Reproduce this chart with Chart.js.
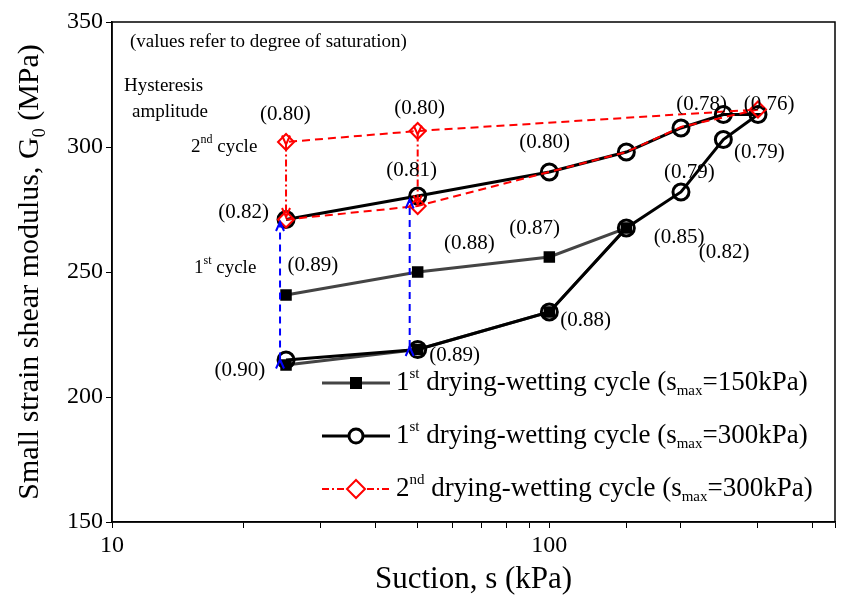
<!DOCTYPE html>
<html>
<head>
<meta charset="utf-8">
<script src="https://cdn.jsdelivr.net/npm/chart.js@4.4.1/dist/chart.umd.min.js"></script>
<style>
  body { margin: 0; background: #fff; }
  #wrap { width: 851px; height: 603px; }
</style>
</head>
<body>
<div id="wrap"><canvas id="chart"></canvas></div>
<script>
// Suction (kPa) and G0 (MPa)
const suction150 = [25, 50, 100, 150, 100, 50, 25];
const g0Cycle150 = [212.8, 219, 234, 267.6, 256, 250, 240.8];

const suction300 = [25, 50, 100, 150, 200, 250, 300, 250, 200, 150, 100, 50, 25];
const g0Cycle300 = [214.8, 219, 234, 267.6, 282, 303, 313, 313, 307.6, 298, 290, 280.4, 271];

const suction2nd = [25, 50, 100, 150, 200, 300, 50, 25];
const g0Cycle2nd = [271, 276.4, 290, 298, 308, 315, 306.4, 302];
const markers2nd = [1, 1, 0, 0, 0, 1, 1, 1];

const yTicks = [150, 200, 250, 300, 350];

// degree of saturation labels: text, suction, G0
const satText = ["(0.80)", "(0.80)", "(0.78)", "(0.76)", "(0.80)", "(0.81)", "(0.79)", "(0.79)",
  "(0.82)", "(0.88)", "(0.87)", "(0.85)", "(0.89)", "(0.82)", "(0.88)", "(0.89)", "(0.90)"];
const satX = [24.9, 50.5, 223, 318, 97.5, 48.4, 209, 302, 20, 65.6, 92.5, 198, 28.8, 251, 121, 60.7, 19.6];
const satY = [313.2, 315.6, 317.2, 317.2, 302, 290.8, 290, 298, 274, 261.6, 267.6, 264, 252.8, 258, 230.8, 216.8, 210.8];

// hysteresis arrows: suction, from G0, to G0
const blueX = [25, 50], blueFrom = [215, 220], blueTo = [270, 279];
const redX = [25, 50], redFrom = [301, 305], redTo = [272, 277];

const FONT = "'Liberation Serif', 'DejaVu Serif', serif";

function toPts(xs, ys) { return xs.map((x, i) => ({ x, y: ys[i] })); }

function drawArrow(ctx, x, y1, y2, color, dash) {
  ctx.save();
  ctx.strokeStyle = color;
  ctx.lineWidth = 2;
  ctx.setLineDash(dash);
  ctx.beginPath();
  ctx.moveTo(x, y1);
  ctx.lineTo(x, y2);
  ctx.stroke();
  ctx.setLineDash([]);
  [[y1, y2 < y1 ? 1 : -1], [y2, y2 > y1 ? -1 : 1]].forEach(([y, d]) => {
    ctx.beginPath();
    ctx.moveTo(x - 4, y + d * 9);
    ctx.lineTo(x, y);
    ctx.lineTo(x + 4, y + d * 9);
    ctx.stroke();
  });
  ctx.restore();
}

function supText(ctx, parts, x, y) {
  // parts: [text, mode, size] mode: n normal, sup, sub
  parts.forEach(([t, m, size]) => {
    ctx.font = size + "px " + FONT;
    const dy = m === "sup" ? -size * 0.6 : m === "sub" ? size * 0.55 : 0;
    ctx.fillText(t, x, y + dy);
    x += ctx.measureText(t).width;
  });
  return x;
}

const extras = {
  id: "extras",
  afterDatasetsDraw(chart) {
    const { ctx, chartArea: a, scales: { x, y } } = chart;
    ctx.save();
    ctx.strokeStyle = "#000";
    ctx.lineWidth = 1.5;
    ctx.strokeRect(a.left, a.top, a.right - a.left, a.bottom - a.top);

    blueX.forEach((s, i) => drawArrow(ctx, x.getPixelForValue(s) + (i ? -8 : -6),
      y.getPixelForValue(blueFrom[i]), y.getPixelForValue(blueTo[i]), "#0000ff", [7, 5]));
    redX.forEach((s, i) => drawArrow(ctx, x.getPixelForValue(s),
      y.getPixelForValue(redFrom[i]), y.getPixelForValue(redTo[i]), "#ff0000", [7, 3, 2, 3]));

    ctx.fillStyle = "#000";
    ctx.textAlign = "center";
    ctx.textBaseline = "middle";
    ctx.font = "21px " + FONT;
    satText.forEach((t, i) => ctx.fillText(t, x.getPixelForValue(satX[i]), y.getPixelForValue(satY[i])));

    ctx.font = "19px " + FONT;
    ctx.textAlign = "left";
    ctx.fillText("(values refer to degree of saturation)", 130, 42);
    ctx.fillText("Hysteresis", 124, 86);
    ctx.fillText("amplitude", 132, 112);
    supText(ctx, [["2", "n", 19], ["nd", "sup", 12], [" cycle", "n", 19]], 191, 147);
    supText(ctx, [["1", "n", 19], ["st", "sup", 12], [" cycle", "n", 19]], 194, 268);

    // legend
    const rows = [
      { c: "#444", dash: [], mk: "sq", t: ["1", "st", "150kPa)"] },
      { c: "#000", dash: [], mk: "ci", t: ["1", "st", "300kPa)"] },
      { c: "#ff0000", dash: [7, 3, 2, 3], mk: "di", t: ["2", "nd", "300kPa)"] }
    ];
    rows.forEach((r, i) => {
      const yy = 383 + i * 53;
      ctx.strokeStyle = r.c;
      ctx.lineWidth = r.mk === "di" ? 2 : 3;
      ctx.setLineDash(r.dash);
      ctx.beginPath(); ctx.moveTo(322, yy); ctx.lineTo(390, yy); ctx.stroke();
      ctx.setLineDash([]);
      if (r.mk === "sq") { ctx.fillStyle = "#000"; ctx.fillRect(350, yy - 6, 12, 12); }
      if (r.mk === "ci") {
        ctx.fillStyle = "#fff"; ctx.lineWidth = 3; ctx.strokeStyle = "#000";
        ctx.beginPath(); ctx.arc(356, yy, 7, 0, Math.PI * 2); ctx.fill(); ctx.stroke();
      }
      if (r.mk === "di") {
        ctx.fillStyle = "#fff"; ctx.lineWidth = 2; ctx.strokeStyle = "#ff0000";
        ctx.beginPath(); ctx.moveTo(356, yy - 9); ctx.lineTo(365, yy); ctx.lineTo(356, yy + 9);
        ctx.lineTo(347, yy); ctx.closePath(); ctx.fill(); ctx.stroke();
      }
      ctx.fillStyle = "#000";
      supText(ctx, [[r.t[0], "n", 27], [r.t[1], "sup", 15], [" drying-wetting cycle (s", "n", 27],
        ["max", "sub", 15], ["=" + r.t[2], "n", 27]], 396, yy);
    });

    // axis titles
    ctx.fillStyle = "#000";
    ctx.textAlign = "center";
    ctx.font = "31px " + FONT;
    ctx.fillText("Suction, s (kPa)", (a.left + a.right) / 2, 580);
    ctx.translate(30, (a.top + a.bottom) / 2);
    ctx.rotate(-Math.PI / 2);
    ctx.textAlign = "left";
    const parts = [["Small strain shear modulus, G", "n", 30], ["0", "sub", 18], [" (MPa)", "n", 30]];
    let w = 0;
    parts.forEach(([t, m, s]) => { ctx.font = s + "px " + FONT; w += ctx.measureText(t).width; });
    supText(ctx, parts, -w / 2, 0);
    ctx.restore();
  }
};

new Chart(document.getElementById("chart"), {
  type: "scatter",
  data: {
    datasets: [
      {
        label: "2nd drying-wetting cycle (smax=300kPa)",
        data: toPts(suction2nd, g0Cycle2nd),
        showLine: true, borderColor: "#ff0000", borderWidth: 2, borderDash: [8, 5],
        pointStyle: "rectRot", pointRadius: markers2nd.map((m) => m * 8), pointBorderWidth: 2,
        pointBackgroundColor: "rgba(255,255,255,0)", pointBorderColor: "#ff0000", order: 1
      },
      {
        label: "1st drying-wetting cycle (smax=300kPa)",
        data: toPts(suction300, g0Cycle300),
        showLine: true, borderColor: "#000", borderWidth: 3,
        pointStyle: "circle", pointRadius: 8, pointBorderWidth: 3,
        pointBackgroundColor: "rgba(255,255,255,0)", pointBorderColor: "#000", order: 2
      },
      {
        label: "1st drying-wetting cycle (smax=150kPa)",
        data: toPts(suction150, g0Cycle150),
        showLine: true, borderColor: "#444", borderWidth: 3,
        pointStyle: "rect", pointRadius: 6, pointBackgroundColor: "#000", pointBorderColor: "#000", order: 3
      }
    ]
  },
  options: {
    responsive: true,
    maintainAspectRatio: false,
    animation: false,
    layout: { padding: { left: 0, top: 22, right: 16, bottom: 0 } },
    plugins: { legend: { display: false }, tooltip: { enabled: false } },
    scales: {
      x: {
        type: "logarithmic", min: 10, max: 450,
        border: { color: "#000", width: 1.5 },
        grid: { drawOnChartArea: false, color: "#000", tickLength: 6 },
        ticks: {
          color: "#000", font: { family: FONT, size: 24 }, autoSkip: false, maxRotation: 0,
          callback: (v) => (v === 10 || v === 100 ? String(v) : "")
        },
        afterFit: (s) => { s.height = 81; }
      },
      y: {
        min: 150, max: 350,
        border: { color: "#000", width: 1.5 },
        grid: { drawOnChartArea: false, color: "#000", tickLength: 6 },
        afterBuildTicks: (s) => { s.ticks = yTicks.map((v) => ({ value: v })); },
        ticks: { color: "#000", font: { family: FONT, size: 24 } },
        afterFit: (s) => { s.width = 112; }
      }
    }
  },
  plugins: [extras]
});
</script>
</body>
</html>
